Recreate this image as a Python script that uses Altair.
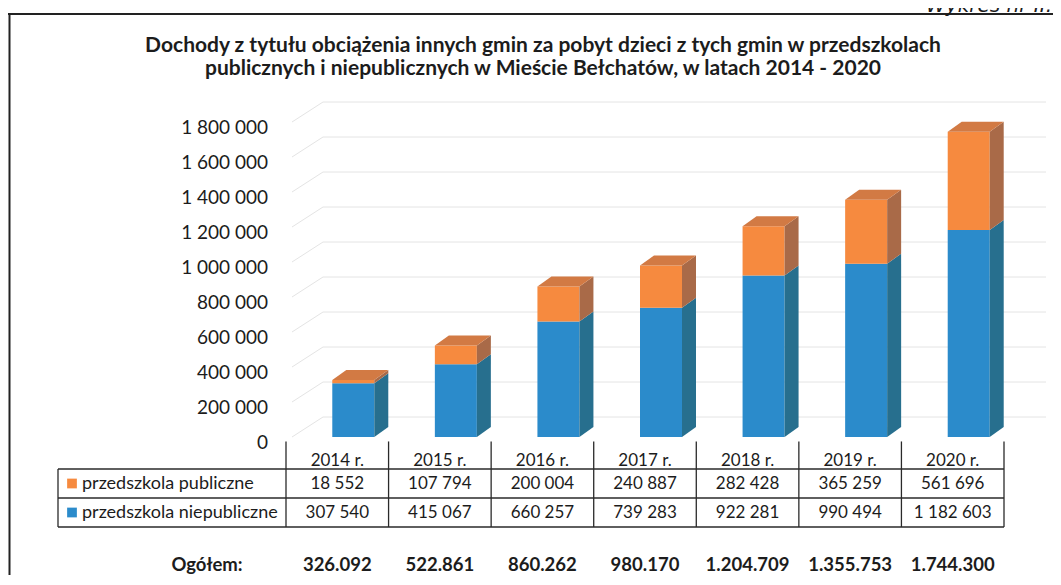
import altair as alt
import pandas as pd

# ---------------- data ----------------
years = ["2014 r.", "2015 r.", "2016 r.", "2017 r.", "2018 r.", "2019 r.", "2020 r."]
publiczne = [18552, 107794, 200004, 240887, 282428, 365259, 561696]
niepubliczne = [307540, 415067, 660257, 739283, 922281, 990494, 1182603]
ogolem = ["326.092", "522.861", "860.262", "980.170", "1.204.709", "1.355.753", "1.744.300"]
series_names = ["przedszkola publiczne", "przedszkola niepubliczne"]
y_ticks = [0, 200000, 400000, 600000, 800000, 1000000, 1200000, 1400000, 1600000, 1800000]
y_tick_labels = ["0", "200 000", "400 000", "600 000", "800 000", "1 000 000",
                 "1 200 000", "1 400 000", "1 600 000", "1 800 000"]
title_lines = [
    "Dochody z tytułu obciążenia innych gmin za pobyt dzieci z tych gmin w przedszkolach",
    "publicznych i niepublicznych w Mieście Bełchatów, w latach 2014 - 2020",
]
ogolem_label = "Ogółem:"
corner_label = "Wykres nr II."

# ---------------- layout / style ----------------
W, H = 1045, 567
X_RANGE = [278, 996]          # category band -0.5 .. 6.5
Y_RANGE = [429, 114]          # value 0 .. 1 800 000
T_RANGE = [461, 519]          # table row lines 0 .. 2
PX_X = (X_RANGE[1] - X_RANGE[0]) / 7.0
VPP = 1800000 / (Y_RANGE[0] - Y_RANGE[1])
FONT = "Lato"
INK = "#1c1c1c"

C_BLUE, C_BLUE_SIDE = "#2b8bcb", "#276f8e"
C_OR, C_OR_SIDE, C_OR_TOP = "#f68a3f", "#a96a48", "#d27a44"

xscale = alt.Scale(domain=[-0.5, 6.5], range=X_RANGE, nice=False, zero=False)
yscale = alt.Scale(domain=[0, 1800000], range=Y_RANGE, nice=False, zero=False)
tscale = alt.Scale(domain=[0, 2], range=T_RANGE, nice=False, zero=False)
cscale = alt.Scale(
    domain=["bf", "bs", "of", "os", "ot"],
    range=[C_BLUE, C_BLUE_SIDE, C_OR, C_OR_SIDE, C_OR_TOP],
)

def xu(px_offset):
    return px_offset / PX_X

FL, FR, DX, DY = xu(-5), xu(37), xu(14), 10 * VPP

# ---------------- 3D bar geometry built from the values ----------------
front_rows, poly_rows = [], []
for i, (o, b) in enumerate(zip(publiczne, niepubliczne)):
    L, R = i + FL, i + FR
    segs = [("b", 0, b), ("o", b, b + o)]
    for key, lo, hi in segs:
        front_rows.append({"x1": L, "x2": R, "lo": lo, "hi": hi, "part": key + "f"})
        fid = f"{i}{key}s"
        poly_rows.append({"face": fid, "x": R, "y": lo, "y2": hi, "part": key + "s"})
        poly_rows.append({"face": fid, "x": R + DX, "y": lo + DY, "y2": hi + DY, "part": key + "s"})
    T = b + o
    fid = f"{i}ot"
    for xx, y1, y2 in [(L, T, T), (L + DX, T, T + DY), (R, T, T + DY), (R + DX, T + DY, T + DY)]:
        poly_rows.append({"face": fid, "x": xx, "y": y1, "y2": y2, "part": "ot"})

front_df = pd.DataFrame(front_rows)
poly_df = pd.DataFrame(poly_rows)
ticks_df = pd.DataFrame({"v": y_ticks, "label": y_tick_labels})

grid_back = alt.Chart(ticks_df).mark_rule(color="#e4e4e4", strokeWidth=1, yOffset=-20).encode(
    x=alt.value(315), x2=alt.value(1038), y=alt.Y("v:Q", scale=yscale, axis=None))
grid_wall = alt.Chart(ticks_df).mark_rule(color="#e4e4e4", strokeWidth=1, y2Offset=-20).encode(
    x=alt.value(284), x2=alt.value(315), y=alt.Y("v:Q", scale=yscale, axis=None), y2="v:Q")
ylabels = alt.Chart(ticks_df).mark_text(
    align="right", baseline="middle", dy=6, font=FONT, fontSize=19, color=INK).encode(
    x=alt.value(260), y=alt.Y("v:Q", scale=yscale, axis=None), text="label:N")

fronts = alt.Chart(front_df).mark_rect().encode(
    x=alt.X("x1:Q", scale=xscale, axis=None), x2="x2:Q",
    y=alt.Y("lo:Q", scale=yscale, axis=None), y2="hi:Q",
    color=alt.Color("part:N", scale=cscale, legend=None))
faces = alt.Chart(poly_df).mark_area().encode(
    x=alt.X("x:Q", scale=xscale, axis=None),
    y=alt.Y("y:Q", scale=yscale, axis=None), y2="y2:Q",
    detail="face:N",
    color=alt.Color("part:N", scale=cscale, legend=None))

values_layer = alt.layer(grid_back, grid_wall, ylabels, fronts, faces)

# ---------------- table ----------------
TL = (58 - 286) / PX_X - 0.5     # left edge of label column
n = len(years)
hl_df = pd.DataFrame({"r": [0, 1, 2], "x1": [TL] * 3, "x2": [n - 0.5] * 3})
vl_df = pd.DataFrame({
    "xb": [TL] + [k - 0.5 for k in range(n + 1)],
    "y1": [0] + [-0.95] * (n + 1),
    "y2": [2] * (n + 2),
})
cells = []
for i in range(n):
    cells.append({"x": i, "r": -0.27, "t": years[i]})
    cells.append({"x": i, "r": 0.5, "t": f"{publiczne[i]:,}".replace(",", " ")})
    cells.append({"x": i, "r": 1.5, "t": f"{niepubliczne[i]:,}".replace(",", " ")})
cells_df = pd.DataFrame(cells)
TOT_R = 3.5
tot_df = pd.DataFrame({"x": list(range(n)), "r": [TOT_R] * n, "t": ogolem})
lab_df = pd.DataFrame({"x": [TL + xu(24)] * 2, "r": [0.5, 1.5], "t": series_names,
                       "mx": [TL + xu(14)] * 2, "part": ["of", "bf"]})
og_df = pd.DataFrame({"x": [TL + xu(149)], "r": [TOT_R], "t": [ogolem_label]})

hlines = alt.Chart(hl_df).mark_rule(color="#2a2a2a", strokeWidth=1.3).encode(
    x=alt.X("x1:Q", scale=xscale, axis=None), x2="x2:Q",
    y=alt.Y("r:Q", scale=tscale, axis=None))
vlines = alt.Chart(vl_df).mark_rule(color="#2a2a2a", strokeWidth=1.3).encode(
    x=alt.X("xb:Q", scale=xscale, axis=None),
    y=alt.Y("y1:Q", scale=tscale, axis=None), y2="y2:Q")
cell_text = alt.Chart(cells_df).mark_text(
    align="center", baseline="middle", font=FONT, fontSize=17, color=INK).encode(
    x=alt.X("x:Q", scale=xscale, axis=None), y=alt.Y("r:Q", scale=tscale, axis=None), text="t:N")
markers = alt.Chart(lab_df).mark_square(size=95, opacity=1).encode(
    x=alt.X("mx:Q", scale=xscale, axis=None), y=alt.Y("r:Q", scale=tscale, axis=None),
    color=alt.Color("part:N", scale=cscale, legend=None))
lab_text = alt.Chart(lab_df).mark_text(
    align="left", baseline="middle", font=FONT, fontSize=18, color=INK).encode(
    x=alt.X("x:Q", scale=xscale, axis=None), y=alt.Y("r:Q", scale=tscale, axis=None), text="t:N")
tot_text = alt.Chart(tot_df).mark_text(
    align="center", baseline="alphabetic", font=FONT, fontSize=18.5, fontWeight="bold", color=INK).encode(
    x=alt.X("x:Q", scale=xscale, axis=None), y=alt.Y("r:Q", scale=tscale, axis=None), text="t:N")
og_text = alt.Chart(og_df).mark_text(
    align="center", baseline="alphabetic", font=FONT, fontSize=18.5, fontWeight="bold", color=INK).encode(
    x=alt.X("x:Q", scale=xscale, axis=None), y=alt.Y("r:Q", scale=tscale, axis=None), text="t:N")

table_layer = alt.layer(hlines, vlines, cell_text, markers, lab_text, tot_text, og_text)

# ---------------- annotations ----------------
one = pd.DataFrame({"k": [0]})
title1 = alt.Chart(one).mark_text(font=FONT, fontSize=21, fontWeight="bold", color=INK,
                                  align="center", baseline="middle").encode(
    x=alt.value(535), y=alt.value(38), text=alt.value(title_lines[0]))
title2 = alt.Chart(one).mark_text(font=FONT, fontSize=21, fontWeight="bold", color=INK,
                                  align="center", baseline="middle").encode(
    x=alt.value(535), y=alt.value(61), text=alt.value(title_lines[1]))
corner = alt.Chart(one).mark_text(font="DejaVu Sans", fontSize=20, fontStyle="italic", color=INK,
                                  align="right", baseline="alphabetic").encode(
    x=alt.value(1044), y=alt.value(4), text=alt.value(corner_label))
frame_top = alt.Chart(one).mark_rule(color="#222222", strokeWidth=2).encode(
    x=alt.value(0), x2=alt.value(1045), y=alt.value(6))
frame_left = alt.Chart(one).mark_rule(color="#222222", strokeWidth=2).encode(
    x=alt.value(1.5), y=alt.value(6), y2=alt.value(H))

chart = alt.layer(
    values_layer, table_layer, title1, title2, frame_top, frame_left, corner
).resolve_scale(y="independent").properties(
    width=W, height=H, padding=0, autosize=alt.AutoSizeParams(type="none"),
    background="white",
).configure_view(stroke=None, strokeWidth=0)

chart.save("out.html", embed_options={"renderer": "svg", "actions": False})
